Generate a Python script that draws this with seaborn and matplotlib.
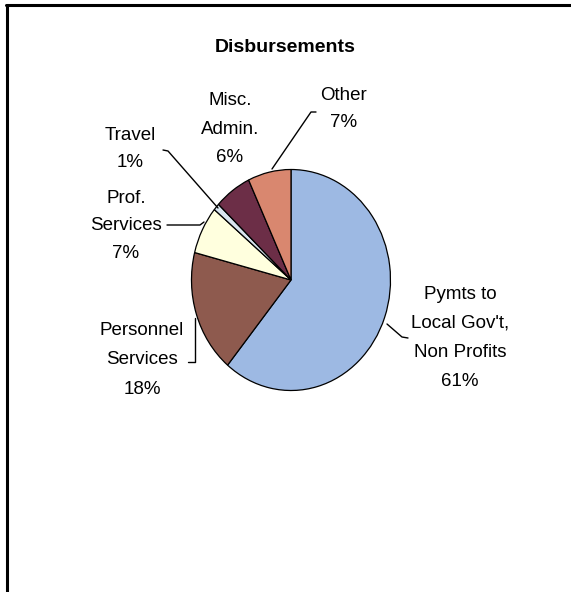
import matplotlib
matplotlib.use("Agg")
import matplotlib.pyplot as plt
import seaborn as sns
from matplotlib.lines import Line2D

# ---- data ----
categories = ["Pymts to\nLocal Gov't,\nNon Profits", "Personnel\nServices",
              "Prof.\nServices", "Travel", "Misc.\nAdmin.", "Other"]
values = [61, 18, 7, 1, 6, 7]
slice_colors = ["#9DB9E3", "#8E5A4E", "#FFFFDE", "#D8E5EF", "#6C2E47", "#D9876F"]
title = "Disbursements"

sns.set_theme(style="white")
plt.rcParams['font.family'] = ['Liberation Sans', 'DejaVu Sans']

W, H = 571, 592
fig = plt.figure(figsize=(W / 100, H / 100), dpi=100)
fig.patch.set_facecolor("white")


def fx(x):
    return x / W


def fy(y):
    return 1 - y / H


# pie axes: box of the (slightly elliptic) pie
left, right, top, bottom = 191.5, 390.5, 169.5, 390.5
ax = fig.add_axes([fx(left), fy(bottom), (right - left) / W, (bottom - top) / H])
pal = sns.color_palette(slice_colors)
ax.pie(values, colors=pal, startangle=90, counterclock=False, radius=1,
       wedgeprops=dict(edgecolor="black", linewidth=0.9))
ax.set_xlim(-1, 1)
ax.set_ylim(-1, 1)
ax.set_aspect("auto")
ax.axis("off")

# title
fig.text(fx(285), fy(47), title, ha="center", va="center", fontsize=14,
         fontweight="bold", color="black")

# labels (layout positions in pixels: centre x, centre y, line spacing)
label_pos = [(460, 338, 1.93), (142, 360, 1.93), (126, 226, 1.8),
             (130, 149, 1.8), (230, 129, 1.87), (344, 109, 1.8)]
for cat, v, (px, py, ls) in zip(categories, values, label_pos):
    fig.text(fx(px), fy(py), f"{cat}\n{v}%", ha="center", va="center",
             multialignment="center", fontsize=13.5, color="black",
             linespacing=ls)

# leader lines
leaders = [
    [(387, 324), (402, 337), (408, 338)],
    [(188, 362), (195, 362), (195, 318)],
    [(167, 225), (200, 225), (204, 222)],
    [(163, 150), (168, 151), (218, 208)],
    [(316, 112), (311, 112), (272, 169)],
]
for pts in leaders:
    xs = [fx(p[0]) for p in pts]
    ys = [fy(p[1]) for p in pts]
    fig.add_artist(Line2D(xs, ys, transform=fig.transFigure, color="black",
                          linewidth=1.0))

# outer frame (top and left edges)
fig.add_artist(Line2D([fx(6), fx(571)], [fy(4.5), fy(4.5)], transform=fig.transFigure,
                      color="black", linewidth=2.2))
fig.add_artist(Line2D([fx(7), fx(7)], [fy(4.5), fy(592)], transform=fig.transFigure,
                      color="black", linewidth=2.2))

fig.savefig("out.png", dpi=100)
